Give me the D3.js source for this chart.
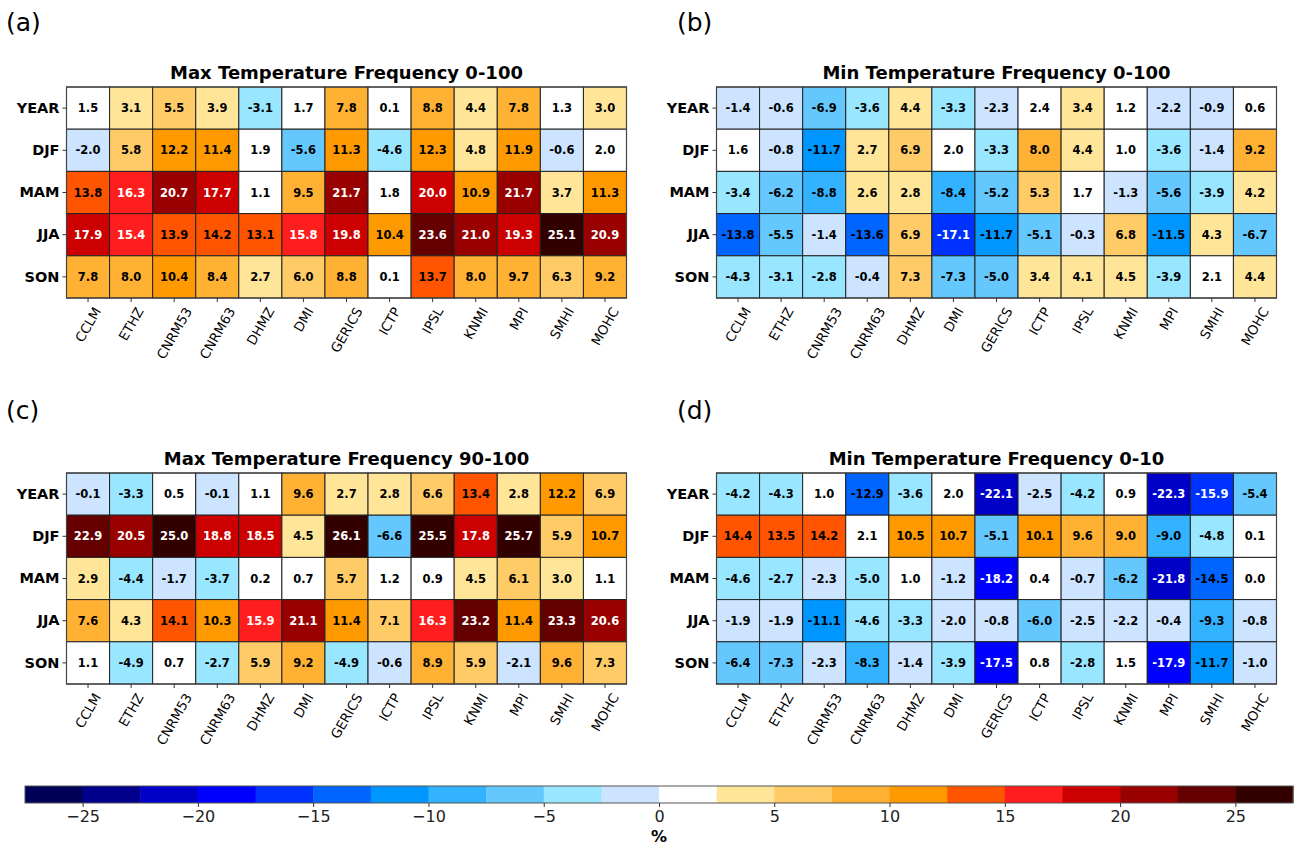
<!DOCTYPE html>
<html>
<head>
<meta charset="utf-8">
<script src="https://cdn.jsdelivr.net/npm/d3@7"></script>
<style>
  body { margin: 0; background: #fff; }
  svg { display: block; }
  text { font-family: "DejaVu Sans", sans-serif; }
</style>
</head>
<body>
<svg id="chart" width="1296" height="848"></svg>
<script>
// ---------- data ----------
const models = ["CCLM","ETHZ","CNRM53","CNRM63","DHMZ","DMI","GERICS","ICTP","IPSL","KNMI","MPI","SMHI","MOHC"];
const seasons = ["YEAR","DJF","MAM","JJA","SON"];

const maxFreq0_100 = [
  [1.5, 3.1, 5.5, 3.9, -3.1, 1.7, 7.8, 0.1, 8.8, 4.4, 7.8, 1.3, 3.0],
  [-2.0, 5.8, 12.2, 11.4, 1.9, -5.6, 11.3, -4.6, 12.3, 4.8, 11.9, -0.6, 2.0],
  [13.8, 16.3, 20.7, 17.7, 1.1, 9.5, 21.7, 1.8, 19.98, 10.9, 21.7, 3.7, 11.3],
  [17.9, 15.4, 13.9, 14.2, 13.1, 15.8, 19.8, 10.4, 23.6, 21.0, 19.3, 25.1, 20.9],
  [7.8, 8.0, 10.4, 8.4, 2.7, 6.0, 8.8, 0.1, 13.7, 8.0, 9.7, 6.3, 9.2]
];
const minFreq0_100 = [
  [-1.4, -0.6, -6.9, -3.6, 4.4, -3.3, -2.3, 2.4, 3.4, 1.2, -2.2, -0.9, 0.6],
  [1.6, -0.8, -11.7, 2.7, 6.9, 2.0, -3.3, 8.0, 4.4, 1.0, -3.6, -1.4, 9.2],
  [-3.4, -6.2, -8.8, 2.6, 2.8, -8.4, -5.2, 5.3, 1.7, -1.3, -5.6, -3.9, 4.2],
  [-13.8, -5.5, -1.4, -13.6, 6.9, -17.1, -11.7, -5.1, -0.3, 6.8, -11.5, 4.3, -6.7],
  [-4.3, -3.1, -2.8, -0.4, 7.3, -7.3, -5.02, 3.4, 4.1, 4.5, -3.9, 2.1, 4.4]
];
const maxFreq90_100 = [
  [-0.1, -3.3, 0.5, -0.1, 1.1, 9.6, 2.7, 2.8, 6.6, 13.4, 2.8, 12.2, 6.9],
  [22.9, 20.5, 25.0, 18.8, 18.5, 4.5, 26.1, -6.6, 25.5, 17.8, 25.7, 5.9, 10.7],
  [2.9, -4.4, -1.7, -3.7, 0.2, 0.7, 5.7, 1.2, 0.9, 4.5, 6.1, 3.0, 1.1],
  [7.6, 4.3, 14.1, 10.3, 15.9, 21.1, 11.4, 7.1, 16.3, 23.2, 11.4, 23.3, 20.6],
  [1.1, -4.9, 0.7, -2.7, 5.9, 9.2, -4.9, -0.6, 8.9, 5.9, -2.1, 9.6, 7.3]
];
const minFreq0_10 = [
  [-4.2, -4.3, 1.0, -12.9, -3.6, 2.0, -22.1, -2.5, -4.2, 0.9, -22.3, -15.9, -5.4],
  [14.4, 13.5, 14.2, 2.1, 10.5, 10.7, -5.1, 10.1, 9.6, 9.0, -9.0, -4.8, 0.1],
  [-4.6, -2.7, -2.3, -5.0, 1.0, -1.2, -18.2, 0.4, -0.7, -6.2, -21.8, -14.5, 0.0],
  [-1.9, -1.9, -11.1, -4.6, -3.3, -2.0, -0.8, -6.0, -2.5, -2.2, -0.4, -9.3, -0.8],
  [-6.4, -7.3, -2.3, -8.3, -1.4, -3.9, -17.52, 0.8, -2.8, 1.5, -17.9, -11.7, -1.0]
];
const panelTitles = ["Max Temperature Frequency 0-100","Min Temperature Frequency 0-100",
                     "Max Temperature Frequency 90-100","Min Temperature Frequency 0-10"];
const panelLetters = ["(a)","(b)","(c)","(d)"];

const colorBounds = [-25,-22.5,-20,-17.5,-15,-12.5,-10,-7.5,-5,-2.5,0,2.5,5,7.5,10,12.5,15,17.5,20,22.5,25];
const colorList = ["#000058","#00008c","#0000c8","#0000ff","#0032ff","#0064ff","#0096ff","#32b2ff",
                   "#64c8ff","#98e6ff","#cce4ff","#ffffff","#ffe598","#ffcb66","#ffb133","#ff9900",
                   "#ff5500","#ff1e1e","#cc0000","#990000","#640000","#330000"];
const cbarTicks = [-25,-20,-15,-10,-5,0,5,10,15,20,25];

// ---------- drawing ----------
const svg = d3.select("#chart");
const color = d3.scaleThreshold().domain(colorBounds).range(colorList);
const datasets = [maxFreq0_100, minFreq0_100, maxFreq90_100, minFreq0_10];

const layout = [
  {x0: 66.5, y0: 87, lx: 6, ly: 31},
  {x0: 716.5, y0: 87, lx: 677, ly: 31},
  {x0: 66.5, y0: 473, lx: 6, ly: 419},
  {x0: 716.5, y0: 473, lx: 677, ly: 419}
];
const W = 560, H = 211;
const ROT = 60, rad = ROT * Math.PI / 180;

datasets.forEach((data, p) => {
  const L = layout[p];
  const g = svg.append("g").attr("transform", `translate(${L.x0},${L.y0})`);
  const x = d3.scaleBand().domain(models).range([0, W]);
  const y = d3.scaleBand().domain(seasons).range([0, H]);

  const cells = [];
  data.forEach((row, i) => row.forEach((v, j) => cells.push({s: seasons[i], m: models[j], v})));

  g.selectAll("rect.cell").data(cells).enter().append("rect")
    .attr("class", "cell")
    .attr("x", d => x(d.m)).attr("y", d => y(d.s))
    .attr("width", x.bandwidth()).attr("height", y.bandwidth())
    .attr("fill", d => color(d.v))
    .attr("stroke", "#222").attr("stroke-width", 1);

  g.selectAll("text.val").data(cells).enter().append("text")
    .attr("class", "val")
    .attr("x", d => x(d.m) + x.bandwidth() / 2)
    .attr("y", d => y(d.s) + y.bandwidth() / 2)
    .attr("dy", "0.36em")
    .attr("text-anchor", "middle")
    .attr("font-size", "11.5px").attr("font-weight", "bold")
    .attr("fill", d => (d.v >= 15 || d.v < -15) ? "#fff" : "#000")
    .text(d => d3.format(".1f")(d.v).replace("−", "-"));

  g.append("rect").attr("x", 0).attr("y", 0).attr("width", W).attr("height", H)
    .attr("fill", "none").attr("stroke", "#444").attr("stroke-width", 1.2);

  // x axis
  const xa = g.append("g").attr("transform", `translate(0,${H})`)
    .call(d3.axisBottom(x).tickSize(4).tickSizeOuter(0));
  xa.select(".domain").remove();
  xa.selectAll("line").attr("stroke", "#333");
  xa.selectAll("text")
    .attr("font-family", "DejaVu Sans").attr("font-size", "13.3px").attr("fill", "#000")
    .attr("text-anchor", "middle")
    .attr("x", 0).attr("y", 0).attr("dy", "0.36em")
    .each(function() {
      const len = this.getComputedTextLength();
      const h = 10;
      const bh = len * Math.sin(rad) + h * Math.cos(rad);
      d3.select(this).attr("transform", `translate(0,${8 + bh / 2}) rotate(${-ROT})`);
    });

  // y axis
  const ya = g.append("g").call(d3.axisLeft(y).tickSize(4).tickSizeOuter(0));
  ya.select(".domain").remove();
  ya.selectAll("line").attr("stroke", "#333");
  ya.selectAll("text")
    .attr("font-family", "DejaVu Sans").attr("font-size", "14.5px").attr("font-weight", "bold")
    .attr("fill", "#000").attr("x", -7);

  // title
  g.append("text").attr("x", W / 2).attr("y", -8)
    .attr("text-anchor", "middle").attr("font-size", "18px").attr("font-weight", "bold")
    .text(panelTitles[p]);

  svg.append("text").attr("x", L.lx).attr("y", L.ly)
    .attr("font-family", "Liberation Sans, Arial, sans-serif").attr("font-size", "25px")
    .text(panelLetters[p]);
});

// ---------- colorbar ----------
const cb = svg.append("g").attr("transform", "translate(0,786)");
const cx = d3.scaleLinear().domain([-27.5, 27.5]).range([25, 1293]);
const cbH = 17;
const bins = d3.range(colorList.length).map(i => ({
  lo: i === 0 ? -27.5 : colorBounds[i - 1],
  hi: i === colorList.length - 1 ? 27.5 : colorBounds[i],
  c: colorList[i]
}));
cb.selectAll("rect.bin").data(bins).enter().append("rect")
  .attr("x", d => cx(d.lo)).attr("width", d => cx(d.hi) - cx(d.lo) + 0.5)
  .attr("y", 0).attr("height", cbH).attr("fill", d => d.c);
cb.append("rect").attr("x", cx(-27.5)).attr("y", 0).attr("width", cx(27.5) - cx(-27.5)).attr("height", cbH)
  .attr("fill", "none").attr("stroke", "#555").attr("stroke-width", 1);
const ca = cb.append("g").attr("transform", `translate(0,${cbH})`)
  .call(d3.axisBottom(cx).tickValues(cbarTicks).tickSize(4).tickFormat(d3.format("d")));
ca.select(".domain").remove();
ca.selectAll("line").attr("stroke", "#333");
ca.selectAll("text").attr("font-family", "DejaVu Sans").attr("font-size", "16px").attr("fill", "#222").attr("dy", "0.75em");
cb.append("text").attr("x", cx(0)).attr("y", 56).attr("text-anchor", "middle")
  .attr("font-size", "16px").attr("font-weight", "bold").text("%");
</script>
</body>
</html>
